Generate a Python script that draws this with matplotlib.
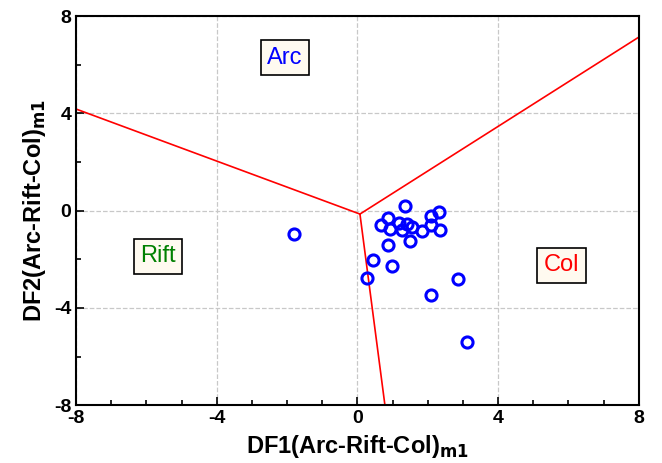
import numpy as np
import matplotlib.pyplot as plt
from matplotlib.ticker import MultipleLocator

plt.rcParams['font.family'] = ['Liberation Sans', 'DejaVu Sans']
plt.rcParams['axes.unicode_minus'] = False

# sample points (DF1, DF2)
df1 = [-1.80, 1.35, 2.32, 2.09, 0.88, 0.66, 1.19, 1.40, 1.54, 0.92, 1.28,
       1.83, 2.10, 2.35, 1.49, 0.88, 0.45, 0.97, 0.27, 2.87, 2.09, 3.10]
df2 = [-0.94, 0.21, -0.06, -0.23, -0.32, -0.61, -0.50, -0.53, -0.67, -0.76, -0.80,
       -0.83, -0.60, -0.80, -1.24, -1.42, -2.01, -2.26, -2.76, -2.83, -3.45, -5.41]

# field boundaries
junction = (0.07, -0.14)
ends = [(-8, 4.18), (8, 7.14), (0.78, -8)]

fields = ["Arc", "Rift", "Col"]
field_pos = [(-2.06, 6.3), (-5.67, -1.87), (5.81, -2.24)]
field_col = ["blue", "green", "red"]

fig = plt.figure(figsize=(6.62, 4.63), dpi=100)
ax = fig.add_axes([0.115, 0.125, 0.85, 0.84])

for e in ends:
    ax.plot([junction[0], e[0]], [junction[1], e[1]], color="red", lw=1.2, zorder=2)

ax.plot(df1, df2, "o", mfc="none", mec="blue", ms=8, mew=2.2, zorder=3)

for name, (x, y), c in zip(fields, field_pos, field_col):
    ax.text(x, y, name, color=c, fontsize=17, ha="center", va="center",
            bbox=dict(boxstyle="square,pad=0.28", fc="#fffaf0", ec="black", lw=1.2))

ax.set_xlim(-8, 8)
ax.set_ylim(-8, 8)
ax.xaxis.set_major_locator(MultipleLocator(4))
ax.yaxis.set_major_locator(MultipleLocator(4))
ax.xaxis.set_minor_locator(MultipleLocator(1))
ax.yaxis.set_minor_locator(MultipleLocator(2))
ax.tick_params(which="both", direction="in", labelsize=14, width=1.2)
ax.tick_params(which="major", length=6)
ax.tick_params(which="minor", length=3.5)
for lab in ax.get_xticklabels() + ax.get_yticklabels():
    lab.set_fontweight("bold")
ax.grid(True, which="major", ls="--", color="#c8c8c8", lw=0.9)
ax.set_axisbelow(True)
for s in ax.spines.values():
    s.set_linewidth(1.5)

ax.set_xlabel(r"DF1(Arc-Rift-Col)$_{\mathbf{m1}}$", fontsize=17, fontweight="bold")
ax.set_ylabel(r"DF2(Arc-Rift-Col)$_{\mathbf{m1}}$", fontsize=17, fontweight="bold")

fig.savefig("out.png", dpi=100)
